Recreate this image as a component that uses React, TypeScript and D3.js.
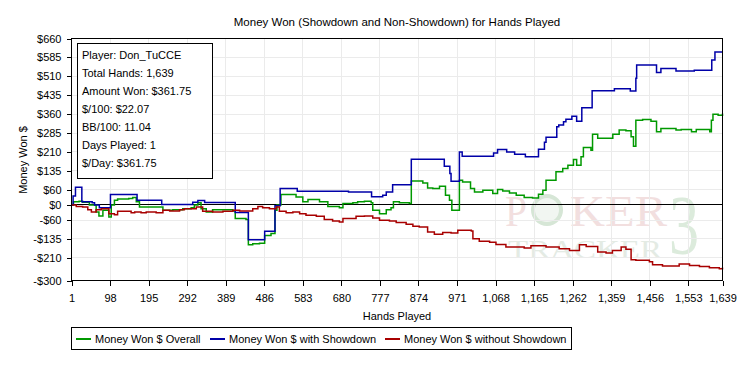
import * as d3 from "d3";
import { useEffect, useRef } from "react";

const handTicks = [1, 98, 195, 292, 389, 486, 583, 680, 777, 874, 971, 1068, 1165, 1262, 1359, 1456, 1553, 1639];
const dollarTicks = [660, 585, 510, 435, 360, 285, 210, 135, 60, 0, -60, -135, -210, -300];

// [hand, dollars] at each step change
const overall: [number, number][] = [
  [1, 0], [6, 12], [20, 14], [29, 10], [46, 0], [63, -28], [70, -44], [80, -21], [95, -48], [101, 0], [109, 18],
  [117, 23], [145, 25], [155, 29], [164, 12], [172, -8], [214, -8], [231, -21], [256, -19], [281, -15], [302, -11],
  [310, 0], [319, 8], [327, -15], [340, -28], [356, -19], [407, -24], [413, -54], [440, -58], [446, -158], [457, -154],
  [474, -152], [487, -121], [503, -114], [513, -21], [518, 0], [528, 41], [566, 31], [583, 12], [596, 21], [625, 12],
  [646, -6], [675, -11], [684, 5], [709, 8], [721, 12], [738, 14], [755, 8], [759, -21], [776, -35], [793, -19],
  [805, -11], [811, 12], [826, 8], [851, 5], [856, 95], [885, 87], [897, 67], [910, 65], [927, 74], [942, 38],
  [952, 18], [958, -21], [977, 98], [985, 91], [1005, 65], [1015, 51], [1036, 58], [1061, 45], [1073, 61], [1086, 55],
  [1103, 47], [1120, 38], [1140, 29], [1161, 27], [1176, 42], [1187, 58], [1195, 98], [1220, 131], [1237, 144],
  [1250, 157], [1264, 180], [1272, 157], [1283, 191], [1289, 228], [1308, 217], [1312, 280], [1325, 264], [1354, 264],
  [1363, 280], [1379, 297], [1396, 294], [1409, 270], [1415, 233], [1421, 336], [1438, 339], [1459, 332], [1473, 290],
  [1484, 303], [1522, 297], [1535, 299], [1561, 290], [1573, 299], [1607, 290], [1611, 336], [1615, 360], [1628, 356],
  [1639, 362],
];

const withShowdown: [number, number][] = [
  [1, 0], [5, 35], [11, 70], [27, 12], [53, 8], [59, 0], [71, -11], [99, 41], [166, 18], [228, 1], [306, 10],
  [319, 17], [336, 9], [413, -30], [446, -138], [487, -105], [513, -3], [526, 65], [569, 54], [698, 51], [756, 32],
  [784, 38], [793, 51], [809, 80], [856, 181], [939, 153], [953, 124], [956, 94], [977, 210], [984, 193], [1063, 206],
  [1073, 220], [1096, 210], [1116, 201], [1143, 191], [1176, 221], [1191, 248], [1195, 268], [1222, 310], [1227, 317],
  [1239, 330], [1245, 340], [1260, 352], [1272, 332], [1285, 385], [1311, 453], [1367, 461], [1407, 452], [1421, 502],
  [1423, 555], [1473, 525], [1484, 541], [1522, 531], [1568, 534], [1612, 575], [1620, 606], [1639, 606],
];

const withoutShowdown: [number, number][] = [
  [1, 0], [13, -6], [29, -8], [42, -19], [51, -28], [63, -19], [76, -15], [95, -35], [109, -39], [117, -25],
  [151, -31], [160, -28], [176, -31], [189, -28], [214, -31], [231, -21], [248, -24], [273, -19], [285, -15],
  [315, -8], [331, -25], [356, -28], [382, -25], [407, -21], [424, -24], [457, -15], [470, -6], [482, -11],
  [499, -15], [516, -8], [524, -25], [541, -31], [558, -28], [575, -35], [591, -41], [617, -45], [637, -58],
  [658, -64], [675, -68], [684, -54], [717, -45], [738, -44], [759, -52], [776, -61], [801, -64], [818, -70],
  [843, -77], [860, -85], [876, -88], [897, -108], [914, -117], [935, -110], [956, -112], [973, -101], [1007, -104],
  [1011, -134], [1027, -144], [1053, -148], [1069, -157], [1094, -167], [1140, -171], [1157, -162], [1195, -167],
  [1228, -174], [1254, -181], [1279, -158], [1296, -165], [1325, -187], [1346, -191], [1362, -181], [1384, -167],
  [1396, -176], [1409, -218], [1421, -220], [1455, -226], [1463, -238], [1488, -242], [1530, -235], [1556, -240],
  [1581, -244], [1606, -249], [1631, -253], [1639, -248],
];

const statsLines = [
  "Player: Don_TuCCE",
  "Total Hands: 1,639",
  "Amount Won: $361.75",
  "$/100: $22.07",
  "BB/100: 11.04",
  "Days Played: 1",
  "$/Day: $361.75",
];
const legendNames = ["Money Won $ Overall", "Money Won $ with Showdown", "Money Won $ without Showdown"];
const lineColors = ["#009900", "#0000a8", "#a80000"];

const FONT = "'Liberation Sans', Arial, sans-serif";
const SERIF = "'Liberation Serif', 'DejaVu Serif', serif";

const App = () => {
  const svgRef = useRef<SVGSVGElement>(null);

  useEffect(() => {
    const svg = d3.select(svgRef.current);
    svg.selectAll("*").remove();

    const x = d3.scaleLinear().domain([1, 1639]).range([71.5, 722.5]);
    const y = d3.scaleLinear().domain([-300, 660]).range([280.5, 38.5]);
    const crisp = (v: number) => Math.floor(v) + 0.5;

    // watermark (logo behind the grid)
    const wm = svg.append("g");
    wm.append("text").attr("x", 505).attr("y", 226).attr("font-family", SERIF).attr("font-size", 44)
      .attr("fill", "#f2dfdf").attr("textLength", 22).attr("lengthAdjust", "spacingAndGlyphs").text("P");
    wm.append("circle").attr("cx", 547).attr("cy", 210).attr("r", 14)
      .attr("fill", "#f1f6f1").attr("stroke", "#d6e6d6").attr("stroke-width", 4);
    wm.append("text").attr("x", 570).attr("y", 226).attr("font-family", SERIF).attr("font-size", 44)
      .attr("fill", "#f2dfdf").attr("textLength", 97).attr("lengthAdjust", "spacingAndGlyphs").text("KER");
    wm.append("text").attr("x", 508).attr("y", 258).attr("font-family", SERIF).attr("font-size", 25)
      .attr("fill", "#e4ebe4").attr("textLength", 154).attr("lengthAdjust", "spacingAndGlyphs").text("TRACKER");
    wm.append("text").attr("x", 669).attr("y", 254).attr("font-family", SERIF).attr("font-size", 84)
      .attr("fill", "#dcebdc").attr("textLength", 30).attr("lengthAdjust", "spacingAndGlyphs").text("3");

    // grid
    const grid = svg.append("g").attr("stroke", "#ebebeb").attr("shape-rendering", "crispEdges");
    grid.selectAll(".vg").data(handTicks.slice(1, -1)).join("line")
      .attr("x1", d => crisp(x(d))).attr("x2", d => crisp(x(d)))
      .attr("y1", 38.5).attr("y2", 280.5);
    grid.selectAll(".hg").data(dollarTicks.filter(d => d !== 0)).join("line")
      .attr("x1", 71.5).attr("x2", 722.5)
      .attr("y1", d => crisp(y(d))).attr("y2", d => crisp(y(d)));

    // zero line
    svg.append("line").attr("x1", 71.5).attr("x2", 722.5)
      .attr("y1", crisp(y(0))).attr("y2", crisp(y(0)))
      .attr("stroke", "#000").attr("shape-rendering", "crispEdges");

    // series
    const line = d3.line<[number, number]>().x(d => x(d[0])).y(d => y(d[1])).curve(d3.curveStepAfter);
    [overall, withShowdown, withoutShowdown].forEach((s, i) => {
      svg.append("path").attr("d", line(s)).attr("fill", "none")
        .attr("stroke", lineColors[i]).attr("stroke-width", 1.5);
    });

    // frame
    svg.append("rect").attr("x", 71.5).attr("y", 38.5).attr("width", 651).attr("height", 242)
      .attr("fill", "none").attr("stroke", "#000").attr("shape-rendering", "crispEdges");

    // axes
    const fmtDollar = (v: number) => (v < 0 ? `-$${-v}` : `$${v}`);
    const yAxis = d3.axisLeft(y).tickValues(dollarTicks).tickSize(5).tickPadding(5).tickFormat(d => fmtDollar(+d));
    const gy = svg.append("g").attr("transform", "translate(71.5,0)").call(yAxis);
    gy.select(".domain").remove();
    gy.attr("font-family", FONT).attr("font-size", 11);
    gy.selectAll("line").attr("shape-rendering", "crispEdges");

    const xAxis = d3.axisBottom(x).tickValues(handTicks).tickSize(5).tickPadding(9).tickFormat(d => d3.format(",")(+d));
    const gx = svg.append("g").attr("transform", "translate(0,280.5)").call(xAxis);
    gx.select(".domain").remove();
    gx.attr("font-family", FONT).attr("font-size", 11);
    gx.selectAll("line").attr("shape-rendering", "crispEdges");

    // titles
    svg.append("text").attr("x", 397).attr("y", 26).attr("text-anchor", "middle")
      .attr("font-family", FONT).attr("font-size", 11.5).text("Money Won (Showdown and Non-Showdown) for Hands Played");
    svg.append("text").attr("x", 397).attr("y", 320).attr("text-anchor", "middle")
      .attr("font-family", FONT).attr("font-size", 11).text("Hands Played");
    svg.append("text").attr("transform", "translate(27,160) rotate(-90)").attr("text-anchor", "middle")
      .attr("font-family", FONT).attr("font-size", 11).text("Money Won $");

    // stats box
    svg.append("rect").attr("x", 77.5).attr("y", 43.5).attr("width", 135).attr("height", 135)
      .attr("fill", "#fff").attr("stroke", "#000").attr("shape-rendering", "crispEdges");
    svg.append("g").selectAll("text").data(statsLines).join("text")
      .attr("x", 82).attr("y", (d, i) => 59 + i * 18)
      .attr("font-family", FONT).attr("font-size", 11).text(d => d);

    // legend
    const legend = svg.append("g");
    legend.append("rect").attr("x", 71.5).attr("y", 327.5).attr("width", 500).attr("height", 22)
      .attr("fill", "#fff").attr("stroke", "#000").attr("shape-rendering", "crispEdges");
    const legendX = [76, 210, 385];
    legendNames.forEach((name, i) => {
      legend.append("line").attr("x1", legendX[i]).attr("x2", legendX[i] + 15).attr("y1", 339).attr("y2", 339)
        .attr("stroke", lineColors[i]).attr("stroke-width", 2);
      legend.append("text").attr("x", legendX[i] + 19).attr("y", 343)
        .attr("font-family", FONT).attr("font-size", 11).text(name);
    });
  }, []);

  return (
    <div style={{ position: "fixed", left: 0, top: 0 }}>
      <svg ref={svgRef} width={744} height={366} style={{ display: "block", background: "#fff" }}></svg>
    </div>
  );
};

export default App;
